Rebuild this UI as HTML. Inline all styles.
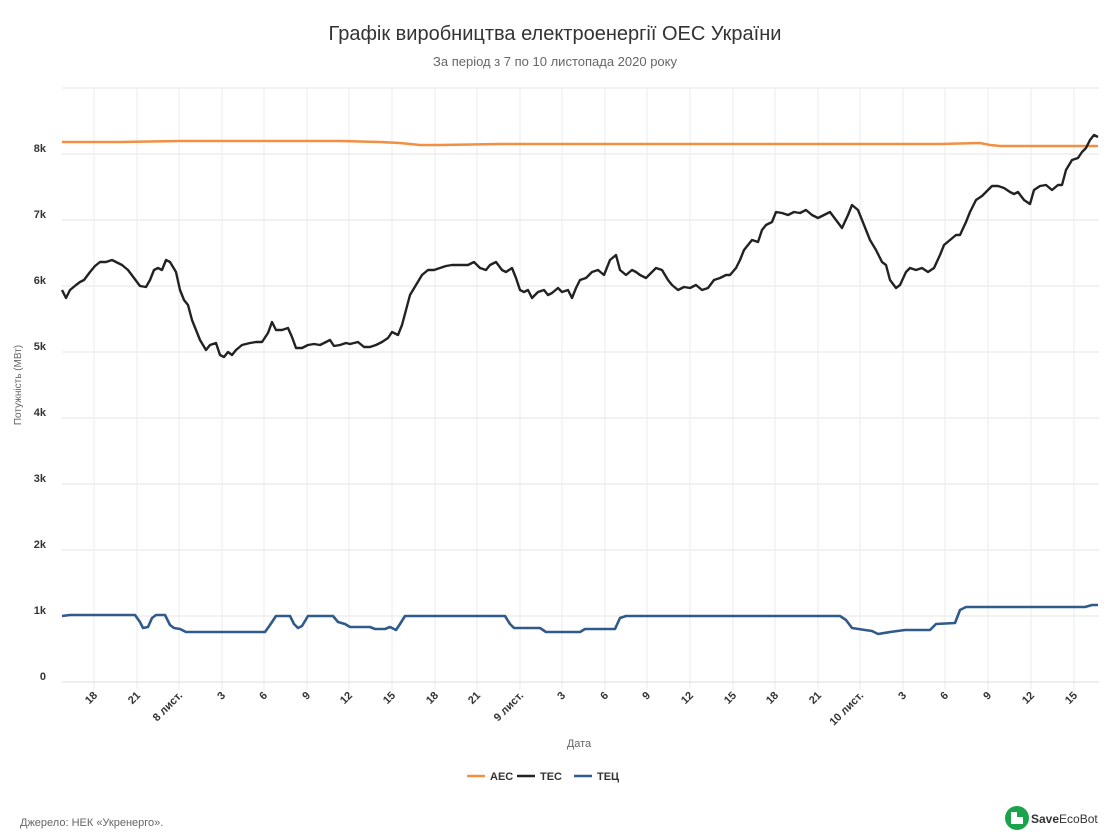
<!DOCTYPE html>
<html><head><meta charset="utf-8"><style>
body{margin:0;background:#fff;}
svg{display:block;font-family:"Liberation Sans","DejaVu Sans",sans-serif;}
</style></head><body>
<svg width="1111" height="838" viewBox="0 0 1111 838">
<rect width="1111" height="838" fill="#fff"/>
<text x="555" y="40" text-anchor="middle" font-size="20" fill="#333">Графік виробництва електроенергії ОЕС України</text>
<text x="555" y="66" text-anchor="middle" font-size="13" fill="#666">За період з 7 по 10 листопада 2020 року</text>
<g stroke="#e6e6e6" stroke-width="1">
<line x1="62" x2="1099" y1="88" y2="88"/><line x1="62" x2="1099" y1="154" y2="154"/><line x1="62" x2="1099" y1="220" y2="220"/><line x1="62" x2="1099" y1="286" y2="286"/><line x1="62" x2="1099" y1="352" y2="352"/><line x1="62" x2="1099" y1="418" y2="418"/><line x1="62" x2="1099" y1="484" y2="484"/><line x1="62" x2="1099" y1="550" y2="550"/><line x1="62" x2="1099" y1="616" y2="616"/>
</g>
<g stroke="#ebebf0" stroke-width="1">
<line x1="94" x2="94" y1="88" y2="690"/><line x1="137" x2="137" y1="88" y2="690"/><line x1="179" x2="179" y1="88" y2="690"/><line x1="222" x2="222" y1="88" y2="690"/><line x1="264" x2="264" y1="88" y2="690"/><line x1="307" x2="307" y1="88" y2="690"/><line x1="349" x2="349" y1="88" y2="690"/><line x1="392" x2="392" y1="88" y2="690"/><line x1="435" x2="435" y1="88" y2="690"/><line x1="477" x2="477" y1="88" y2="690"/><line x1="520" x2="520" y1="88" y2="690"/><line x1="562" x2="562" y1="88" y2="690"/><line x1="605" x2="605" y1="88" y2="690"/><line x1="647" x2="647" y1="88" y2="690"/><line x1="690" x2="690" y1="88" y2="690"/><line x1="733" x2="733" y1="88" y2="690"/><line x1="775" x2="775" y1="88" y2="690"/><line x1="818" x2="818" y1="88" y2="690"/><line x1="860" x2="860" y1="88" y2="690"/><line x1="903" x2="903" y1="88" y2="690"/><line x1="945" x2="945" y1="88" y2="690"/><line x1="988" x2="988" y1="88" y2="690"/><line x1="1031" x2="1031" y1="88" y2="690"/><line x1="1074" x2="1074" y1="88" y2="690"/>
</g>
<line x1="62" x2="1099" y1="682" y2="682" stroke="#dcdce6" stroke-width="1"/>
<g font-size="11" fill="#333" font-weight="bold" text-anchor="end">
<text x="46" y="152">8k</text><text x="46" y="218">7k</text><text x="46" y="284">6k</text><text x="46" y="350">5k</text><text x="46" y="416">4k</text><text x="46" y="482">3k</text><text x="46" y="548">2k</text><text x="46" y="614">1k</text><text x="46" y="680">0</text>
</g>
<text transform="translate(21,385) rotate(-90)" text-anchor="middle" font-size="10" fill="#666">Потужність (МВт)</text>
<g font-size="11" fill="#333" font-weight="bold" text-anchor="end">
<text transform="translate(98,696) rotate(-45)">18</text>
<text transform="translate(141,696) rotate(-45)">21</text>
<text transform="translate(183,696) rotate(-45)">8 лист.</text>
<text transform="translate(226,696) rotate(-45)">3</text>
<text transform="translate(268,696) rotate(-45)">6</text>
<text transform="translate(311,696) rotate(-45)">9</text>
<text transform="translate(353,696) rotate(-45)">12</text>
<text transform="translate(396,696) rotate(-45)">15</text>
<text transform="translate(439,696) rotate(-45)">18</text>
<text transform="translate(481,696) rotate(-45)">21</text>
<text transform="translate(524,696) rotate(-45)">9 лист.</text>
<text transform="translate(566,696) rotate(-45)">3</text>
<text transform="translate(609,696) rotate(-45)">6</text>
<text transform="translate(651,696) rotate(-45)">9</text>
<text transform="translate(694,696) rotate(-45)">12</text>
<text transform="translate(737,696) rotate(-45)">15</text>
<text transform="translate(779,696) rotate(-45)">18</text>
<text transform="translate(822,696) rotate(-45)">21</text>
<text transform="translate(864,696) rotate(-45)">10 лист.</text>
<text transform="translate(907,696) rotate(-45)">3</text>
<text transform="translate(949,696) rotate(-45)">6</text>
<text transform="translate(992,696) rotate(-45)">9</text>
<text transform="translate(1035,696) rotate(-45)">12</text>
<text transform="translate(1078,696) rotate(-45)">15</text>
</g>
<text x="579" y="747" text-anchor="middle" font-size="11" fill="#666">Дата</text>
<polyline fill="none" stroke="#f28f43" stroke-width="2.6" points="62,142 120,142 180,141 260,141 340,141 380,142 400,143 420,145 440,145 500,144 560,144 620,144 700,144 760,144 840,144 900,144 940,144 980,143 990,145 1000,146 1098,146"/>
<polyline fill="none" stroke="#222" stroke-width="2.4" stroke-linejoin="round" points="62,290 66,298 70,290 76,285 80,282 84,280 90,272 95,266 100,262 106,262 112,260 116,262 122,265 128,270 134,278 140,286 146,287 150,280 154,270 158,268 162,270 166,260 170,262 176,272 180,290 184,300 188,305 192,320 196,330 200,340 206,350 210,345 216,343 220,355 224,357 228,352 232,355 236,350 242,345 250,343 256,342 262,342 268,333 272,322 276,330 282,330 288,328 292,337 296,348 302,348 308,345 314,344 320,345 326,342 330,340 334,346 340,345 346,343 350,344 358,342 364,347 370,347 376,345 382,342 388,338 392,332 398,335 402,325 406,310 410,295 416,285 422,275 428,270 434,270 440,268 446,266 452,265 460,265 468,265 474,262 480,268 486,270 490,265 496,262 502,270 506,272 512,268 516,278 520,290 524,292 528,290 532,298 538,292 544,290 548,295 552,293 558,288 562,292 568,290 572,298 576,288 580,280 586,278 592,272 598,270 604,275 610,260 616,255 620,270 626,275 632,270 636,272 640,275 646,278 652,272 656,268 662,270 668,280 672,285 678,290 684,287 690,288 696,285 702,290 708,288 714,280 720,278 726,275 730,275 736,268 740,260 744,250 748,245 752,240 758,242 762,230 766,225 772,222 776,212 782,213 788,215 794,212 800,213 806,210 812,215 818,218 824,215 830,212 836,220 842,228 848,215 852,205 858,210 864,225 870,240 876,250 882,262 886,265 890,280 896,288 900,285 906,272 910,268 916,270 922,268 928,272 934,268 940,255 944,245 950,240 956,235 960,235 966,222 970,212 976,200 982,196 986,192 992,186 998,186 1004,188 1010,192 1014,194 1018,192 1024,200 1030,204 1034,190 1040,186 1046,185 1052,190 1058,185 1062,185 1066,170 1072,160 1078,158 1082,152 1086,148 1090,140 1094,135 1098,137"/>
<polyline fill="none" stroke="#2f5a8a" stroke-width="2.6" stroke-linejoin="round" points="62,616 70,615 135,615 140,622 143,628 148,627 152,618 156,615 165,615 170,625 174,628 180,629 186,632 265,632 270,625 276,616 290,616 294,624 298,628 302,626 308,616 333,616 338,622 345,624 350,627 370,627 375,629 385,629 390,627 396,630 400,624 405,616 505,616 510,624 514,628 540,628 546,632 580,632 585,629 615,629 620,618 626,616 840,616 846,620 852,628 865,630 872,631 878,634 890,632 905,630 930,630 936,624 955,623 960,610 966,607 1085,607 1092,605 1098,605"/>
<g font-size="11" fill="#333" font-weight="bold">
<line x1="467" x2="485" y1="776" y2="776" stroke="#f28f43" stroke-width="2.5"/><text x="490" y="780">АЕС</text>
<line x1="517" x2="535" y1="776" y2="776" stroke="#222" stroke-width="2.5"/><text x="540" y="780">ТЕС</text>
<line x1="574" x2="592" y1="776" y2="776" stroke="#2f5a8a" stroke-width="2.5"/><text x="597" y="780">ТЕЦ</text>
</g>
<text x="20" y="826" font-size="11" fill="#666">Джерело: НЕК «Укренерго».</text>
<circle cx="1017" cy="818" r="12" fill="#1aa34a"/>
<path d="M1011,812 v12 h12 v-7 h-6 v-5 z" fill="#fff"/>
<text x="1031" y="823" font-size="12" font-weight="bold" fill="#333">Save<tspan font-weight="normal">EcoBot</tspan></text>
</svg>
</body></html>
